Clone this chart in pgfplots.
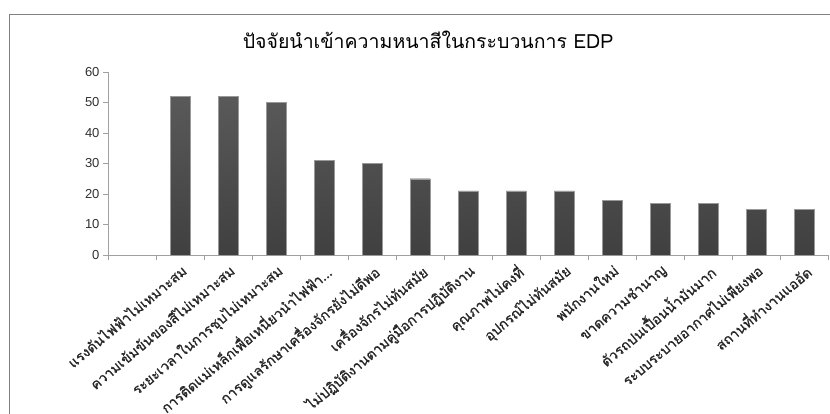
\documentclass[border=0pt]{standalone}
\usepackage{fontspec}
\usepackage{pgfplots}
\pgfplotsset{compat=1.18}
\setmainfont{Liberation Sans}
\newfontfamily\thaifont[Script=Thai]{Loma}
\newfontfamily\thaifontb[Script=Thai,FakeBold=1]{Loma}
\definecolor{axgray}{HTML}{A0A0A0}
\definecolor{txt}{HTML}{303030}
\begin{document}
\begin{tikzpicture}
\useasboundingbox (0pt,0pt) rectangle (830pt,414pt);
\draw[line width=1.5pt, color=black!50] (9.5pt,0pt) -- (9.5pt,399.5pt) -- (830pt,399.5pt);
\node[font=\thaifont\fontsize{19.5}{21}\selectfont, text=black] at (428pt,374pt) {ปัจจัยนำเข้าความหนาสีในกระบวนการ EDP};
\begin{axis}[
  at={(108pt,159pt)}, anchor=south west, scale only axis,
  width=720pt, height=183pt,
  xmin=-0.5, xmax=14.5, ymin=0, ymax=60,
  ytick={0,10,...,60},
  axis x line=bottom, axis y line=left,
  axis line style={-, draw=axgray},
  tick align=outside,
  major tick length=5pt, minor tick length=5pt,
  ytick style={draw=axgray},
  major x tick style={draw=none},
  minor x tick style={draw=axgray},
  xtick={1,...,14},
  minor xtick={-0.5,0.5,...,14.5},
  xticklabels={แรงดันไฟฟ้าไม่เหมาะสม, ความเข้มข้นของสีไม่เหมาะสม, ระยะเวลาในการชุบไม่เหมาะสม, {การติดแม่เหล็กเพื่อเหนี่ยวนำไฟฟ้า.{}.{}.}, การดูแลรักษาเครื่องจักรยังไม่ดีพอ, เครื่องจักรไม่ทันสมัย, ไม่ปฏิบัติงานตามคู่มือการปฏิบัติงาน, คุณภาพไม่คงที่, อุปกรณ์ไม่ทันสมัย, พนักงานใหม่, ขาดความชำนาญ, ตัวรถปนเปื้อนน้ำมันมาก, ระบบระบายอากาศไม่เพียงพอ, สถานที่ทำงานแออัด},
  xticklabel style={rotate=40, anchor=north east, font=\thaifontb\fontsize{14}{15}\selectfont, text=black!85, inner sep=2pt},
  yticklabel style={font=\fontsize{13}{14}\selectfont, text=txt},
  /pgf/number format/assume math mode=true,
  clip=false,
]
\addplot[ybar, bar width=20pt, draw=black!40, top color=black!65, bottom color=black!75]
  coordinates {(1,52) (2,52) (3,50) (4,31) (5,30) (6,25) (7,21) (8,21) (9,21) (10,18) (11,17) (12,17) (13,15) (14,15)};
\end{axis}
\end{tikzpicture}
\end{document}
